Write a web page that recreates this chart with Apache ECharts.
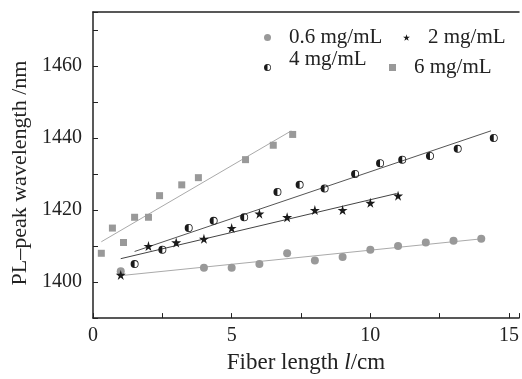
<!DOCTYPE html>
<html>
<head>
<meta charset="utf-8">
<script src="https://cdn.jsdelivr.net/npm/echarts@6/dist/echarts.min.js"></script>
<style>
  html, body { margin: 0; padding: 0; background: #fff; }
  #chart { width: 522px; height: 379px; }
</style>
</head>
<body>
<div id="chart"></div>
<script>
var x06 = [1, 4, 5, 6, 7, 8, 9, 10, 11, 12, 13, 14];
var y06 = [1403, 1404, 1404, 1405, 1408, 1406, 1407, 1409, 1410, 1411, 1411.5, 1412];

var x2 = [1, 2, 3, 4, 5, 6, 7, 8, 9, 10, 11];
var y2 = [1402, 1410, 1411, 1412, 1415, 1419, 1418, 1420, 1420, 1422, 1424];

var x4 = [1.5, 2.5, 3.45, 4.35, 5.45, 6.65, 7.45, 8.35, 9.45, 10.35, 11.15, 12.15, 13.15, 14.45];
var y4 = [1405, 1409, 1415, 1417, 1418, 1425, 1427, 1426, 1430, 1433, 1434, 1435, 1437, 1440];

var x6 = [0.3, 0.7, 1.1, 1.5, 2.0, 2.4, 3.2, 3.8, 5.5, 6.5, 7.2];
var y6 = [1408, 1415, 1411, 1418, 1418, 1424, 1427, 1429, 1434, 1438, 1441];

// linear fit end points
var fit06X = [1, 14], fit06Y = [1401.8, 1412];
var fit2X = [1, 10.95], fit2Y = [1406.5, 1424.6];
var fit4X = [1.5, 14.35], fit4Y = [1408.5, 1442];
var fit6X = [0.3, 7.15], fit6Y = [1411.2, 1442];

var names = ['0.6 mg/mL', '2 mg/mL', '4 mg/mL', '6 mg/mL'];

function pairs(xs, ys) {
  return xs.map(function (x, i) { return [x, ys[i]]; });
}

var FONT = 'Liberation Serif';
var AX = '#222';
var GRAY = '#999';

var starPath = 'path://M50 0 L61 35 L98 35 L68 57 L79 91 L50 70 L21 91 L32 57 L2 35 L39 35 Z';
// ring + left half disk
var halfPath = 'path://M10 0 A10 10 0 1 1 10 20 A10 10 0 1 1 10 0 Z ' +
  'M10 2 A8 8 0 1 0 10 18 A8 8 0 1 0 10 2 Z ' +
  'M10 18 A8 8 0 0 1 10 2 Z';

var dom = document.getElementById('chart');
var myChart = echarts.init(dom);

function legendAt(name, left, top, raised) {
  return {
    data: [name],
    left: left,
    top: top,
    padding: 0,
    itemWidth: 7,
    itemHeight: 7,
    // second empty line pushes the text up above the icon
    formatter: raised ? function (n) { return n + '\n '; } : '{name}',
    textStyle: {
      fontFamily: FONT,
      fontSize: 21,
      color: AX,
      lineHeight: raised ? 16 : 20,
      padding: [0, 0, 0, 13]
    }
  };
}

var option = {
  animation: false,
  backgroundColor: '#fff',
  grid: { left: 93, top: 12, right: 0, bottom: 52 },
  legend: [
    legendAt(names[0], 264, 27),
    legendAt(names[1], 403, 27),
    legendAt(names[2], 264, 49, true),
    legendAt(names[3], 389, 57)
  ],
  xAxis: [{
    type: 'value',
    min: 0,
    max: 15.36,
    interval: 2.5,
    name: '{a|Fiber length }{i|l}{a|/cm}',
    nameLocation: 'middle',
    nameGap: 31,
    nameTextStyle: {
      rich: {
        a: { fontFamily: FONT, fontSize: 23, color: AX },
        i: { fontFamily: FONT, fontSize: 23, color: AX, fontStyle: 'italic' }
      }
    },
    axisLine: { show: true, lineStyle: { color: AX, width: 1.5 } },
    axisTick: { inside: true, length: 5, lineStyle: { color: AX } },
    axisLabel: {
      margin: 8,
      fontFamily: FONT,
      fontSize: 20,
      color: AX,
      formatter: function (v) { return v % 5 === 0 ? v : ''; }
    },
    splitLine: { show: false }
  }, {
    type: 'value',
    position: 'top',
    min: 0,
    max: 15.36,
    axisLine: { show: true, lineStyle: { color: AX, width: 1.5 } },
    axisTick: { show: false },
    axisLabel: { show: false },
    splitLine: { show: false }
  }],
  yAxis: {
    type: 'value',
    min: 1390,
    max: 1475,
    interval: 10,
    name: 'PL–peak wavelength /nm',
    nameLocation: 'middle',
    nameGap: 60,
    nameTextStyle: { fontFamily: FONT, fontSize: 22, color: AX, padding: [0, 16, 0, 0] },
    axisLine: { show: true, lineStyle: { color: AX, width: 1.5 } },
    axisTick: { inside: true, length: 5, lineStyle: { color: AX } },
    axisLabel: {
      margin: 11,
      fontFamily: FONT,
      fontSize: 20,
      color: AX,
      formatter: function (v) { return v % 20 === 0 ? v : ''; }
    },
    splitLine: { show: false }
  },
  series: [
    { name: 'fit06', type: 'line', data: pairs(fit06X, fit06Y), showSymbol: false, z: 1,
      lineStyle: { color: '#aaa', width: 1 } },
    { name: 'fit2', type: 'line', data: pairs(fit2X, fit2Y), showSymbol: false, z: 1,
      lineStyle: { color: '#444', width: 1 } },
    { name: 'fit4', type: 'line', data: pairs(fit4X, fit4Y), showSymbol: false, z: 1,
      lineStyle: { color: '#555', width: 1 } },
    { name: 'fit6', type: 'line', data: pairs(fit6X, fit6Y), showSymbol: false, z: 1,
      lineStyle: { color: '#aaa', width: 1 } },
    { name: names[0], type: 'scatter', data: pairs(x06, y06), symbol: 'circle', symbolSize: 8, z: 3,
      itemStyle: { color: GRAY, opacity: 1 } },
    { name: names[1], type: 'scatter', data: pairs(x2, y2), symbol: starPath, symbolSize: 10, z: 3,
      itemStyle: { color: '#1a1a1a', opacity: 1 } },
    { name: names[2], type: 'scatter', data: pairs(x4, y4), symbol: halfPath, symbolSize: 8, z: 3,
      itemStyle: { color: '#1a1a1a', opacity: 1 } },
    { name: names[3], type: 'scatter', data: pairs(x6, y6), symbol: 'rect', symbolSize: 7, z: 3,
      itemStyle: { color: GRAY, opacity: 1 } }
  ]
};

if (option && typeof option === 'object') {
  myChart.setOption(option, true);
}
</script>
</body>
</html>
